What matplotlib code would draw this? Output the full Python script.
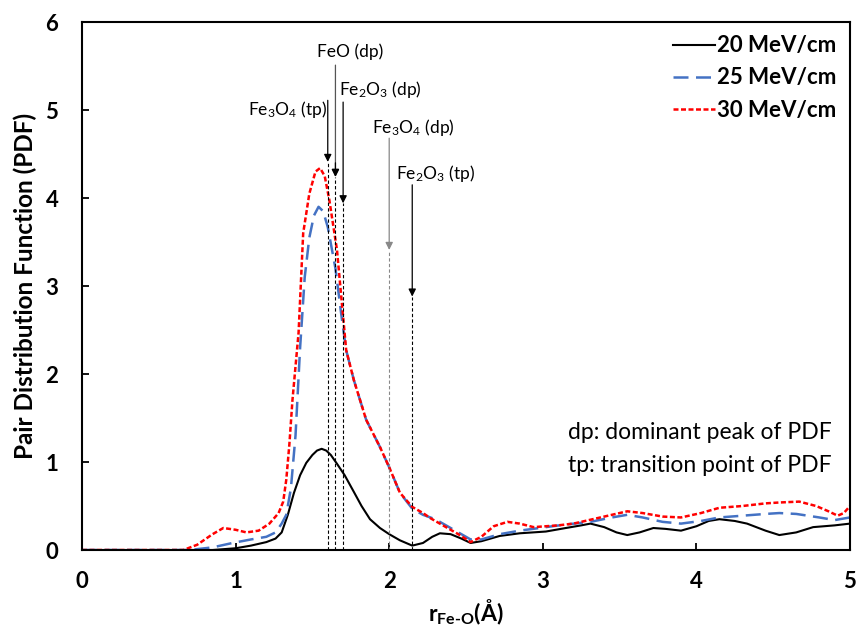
import numpy as np
import matplotlib
matplotlib.use("Agg")
import matplotlib.pyplot as plt

plt.rcParams['font.family'] = ['Lato', 'DejaVu Sans']
plt.rcParams['mathtext.default'] = 'regular'

# PDF curves, r in angstrom
r20 = [0, 0.85, 1.0, 1.1, 1.2, 1.26, 1.3, 1.34, 1.38, 1.42, 1.46, 1.5, 1.53, 1.56, 1.59, 1.62,
       1.66, 1.71, 1.77, 1.82, 1.875, 1.94, 2.0, 2.07, 2.15, 2.22, 2.28, 2.33, 2.4, 2.47, 2.53,
       2.6, 2.72, 2.85, 3.02, 3.15, 3.25, 3.31, 3.4, 3.48, 3.55, 3.63, 3.72, 3.8, 3.9, 4.0,
       4.08, 4.15, 4.25, 4.33, 4.45, 4.54, 4.65, 4.76, 4.9, 5.0]
pdf20 = [0, 0, 0.02, 0.05, 0.09, 0.13, 0.2, 0.4, 0.65, 0.85, 0.99, 1.08, 1.13, 1.15, 1.13, 1.08,
         0.98, 0.85, 0.66, 0.5, 0.35, 0.25, 0.18, 0.11, 0.05, 0.08, 0.15, 0.19, 0.18, 0.13, 0.08,
         0.1, 0.16, 0.19, 0.21, 0.25, 0.28, 0.3, 0.26, 0.2, 0.17, 0.2, 0.25, 0.24, 0.22, 0.27,
         0.33, 0.35, 0.33, 0.3, 0.22, 0.17, 0.2, 0.26, 0.28, 0.3]

r25 = [0, 0.7, 0.85, 0.98, 1.1, 1.2, 1.26, 1.3, 1.33, 1.36, 1.39, 1.42, 1.45, 1.48, 1.51,
       1.54, 1.57, 1.6, 1.65, 1.69, 1.72, 1.77, 1.85, 1.94, 2.0, 2.07, 2.15, 2.22, 2.3, 2.37,
       2.45, 2.53, 2.6, 2.72, 2.85, 3.02, 3.15, 3.31, 3.45, 3.55, 3.65, 3.78, 3.9, 4.03, 4.15,
       4.3, 4.45, 4.54, 4.65, 4.8, 4.9, 5.0]
pdf25 = [0, 0, 0.03, 0.08, 0.12, 0.15, 0.2, 0.3, 0.4, 0.7, 1.3, 2.3, 3.1, 3.55, 3.8,
         3.9, 3.85, 3.67, 3.2, 2.65, 2.27, 1.93, 1.48, 1.17, 0.94, 0.65, 0.47, 0.4, 0.35, 0.28,
         0.2, 0.12, 0.12, 0.18, 0.22, 0.26, 0.29, 0.32, 0.37, 0.4, 0.37, 0.32, 0.3, 0.33, 0.37,
         0.39, 0.41, 0.42, 0.41, 0.37, 0.34, 0.37]

r30 = [0, 0.66, 0.75, 0.85, 0.92, 1.0, 1.07, 1.15, 1.22, 1.28, 1.31, 1.33, 1.35, 1.37, 1.41,
       1.44, 1.48, 1.52, 1.55, 1.58, 1.61, 1.66, 1.69, 1.72, 1.77, 1.85, 1.94, 2.0, 2.07, 2.15,
       2.22, 2.27, 2.37, 2.45, 2.53, 2.6, 2.68, 2.77, 2.85, 2.94, 3.1, 3.2, 3.35, 3.45, 3.55,
       3.65, 3.78, 3.9, 4.03, 4.15, 4.3, 4.45, 4.54, 4.67, 4.78, 4.86, 4.92, 4.96, 5.0]
pdf30 = [0, 0, 0.06, 0.18, 0.25, 0.23, 0.2, 0.22, 0.3, 0.42, 0.55, 0.8, 1.2, 1.7, 2.47,
         3.6, 4.05, 4.3, 4.34, 4.25, 3.98, 3.41, 2.84, 2.27, 1.93, 1.48, 1.17, 0.94, 0.65, 0.49,
         0.42, 0.36, 0.26, 0.18, 0.09, 0.15, 0.27, 0.32, 0.3, 0.26, 0.28, 0.3, 0.36, 0.4, 0.44,
         0.42, 0.38, 0.37, 0.42, 0.48, 0.5, 0.53, 0.54, 0.55, 0.5, 0.44, 0.39, 0.42, 0.5]

# reference positions with arrow tip and arrow start heights
mark_labels = ['Fe$_3$O$_4$ (tp)', 'FeO (dp)', 'Fe$_2$O$_3$ (dp)', 'Fe$_3$O$_4$ (dp)', 'Fe$_2$O$_3$ (tp)']
mark_r = [1.6, 1.65, 1.7, 2.0, 2.15]
mark_tip = [4.41, 4.24, 3.94, 3.41, 2.88]
mark_top = [5.11, 5.51, 5.09, 4.68, 4.15]
mark_colors = ['black', '#555555', 'black', '#888888', 'black']

fig = plt.figure(figsize=(8.57, 6.36), dpi=100)
ax = fig.add_axes([0.0957, 0.1352, 0.8961, 0.8302])

ax.plot(r20, pdf20, color='black', lw=1.5, label='20 MeV/cm')
ax.plot(r25, pdf25, color='#4472C4', lw=1.8, dashes=(6, 3), label='25 MeV/cm')
ax.plot(r30, pdf30, color='#FF0000', lw=1.8, dashes=(2, 1), label='30 MeV/cm')

for r, tip, top, c in zip(mark_r, mark_tip, mark_top, mark_colors):
    ax.plot([r, r], [0, tip], color=c if c != '#555555' else 'black', lw=0.8, ls=(0, (3, 2)))
    ax.annotate('', xy=(r, tip), xytext=(r, top),
                arrowprops=dict(arrowstyle='-|>', color=c, lw=0.9,
                                mutation_scale=11, shrinkA=0, shrinkB=0))
ax.annotate('', xy=(1.65, 4.24), xytext=(1.65, 4.4),
            arrowprops=dict(arrowstyle='-|>', color='black', lw=0.9,
                            mutation_scale=11, shrinkA=0, shrinkB=0))

lab_fs = 12.5
ax.text(1.595, 5.01, mark_labels[0], ha='right', va='center', fontsize=lab_fs)
ax.text(1.745, 5.66, mark_labels[1], ha='center', va='center', fontsize=lab_fs)
ax.text(1.94, 5.23, mark_labels[2], ha='center', va='center', fontsize=lab_fs)
ax.text(2.16, 4.80, mark_labels[3], ha='center', va='center', fontsize=lab_fs)
ax.text(2.30, 4.28, mark_labels[4], ha='center', va='center', fontsize=lab_fs)

ax.text(4.88, 1.34, 'dp: dominant peak of PDF', ha='right', va='center', fontsize=16.5)
ax.text(4.88, 0.96, 'tp: transition point of PDF', ha='right', va='center', fontsize=16.5)

ax.set_xlim(0, 5)
ax.set_ylim(0, 6)
ax.set_xticks([0, 1, 2, 3, 4, 5])
ax.set_yticks([0, 1, 2, 3, 4, 5, 6])
ax.tick_params(direction='in', length=5, width=1.3, labelsize=16)
for t in ax.get_xticklabels() + ax.get_yticklabels():
    t.set_fontweight('bold')
ax.tick_params(axis='x', pad=15)
ax.tick_params(axis='y', pad=17)
for s in ax.spines.values():
    s.set_linewidth(1.5)

ax.set_xlabel('r$_{Fe\u2010O}$(Å)', fontsize=16.5, fontweight='bold', labelpad=4)
ax.set_ylabel('Pair Distribution Function (PDF)', fontsize=17.5, fontweight='bold', labelpad=6)

leg = ax.legend(loc='upper right', frameon=False, fontsize=16, handlelength=1.9,
                handletextpad=0.1, borderaxespad=0.2, labelspacing=0.5)
for t in leg.get_texts():
    t.set_fontweight('bold')

plt.savefig('out.png', dpi=100)
